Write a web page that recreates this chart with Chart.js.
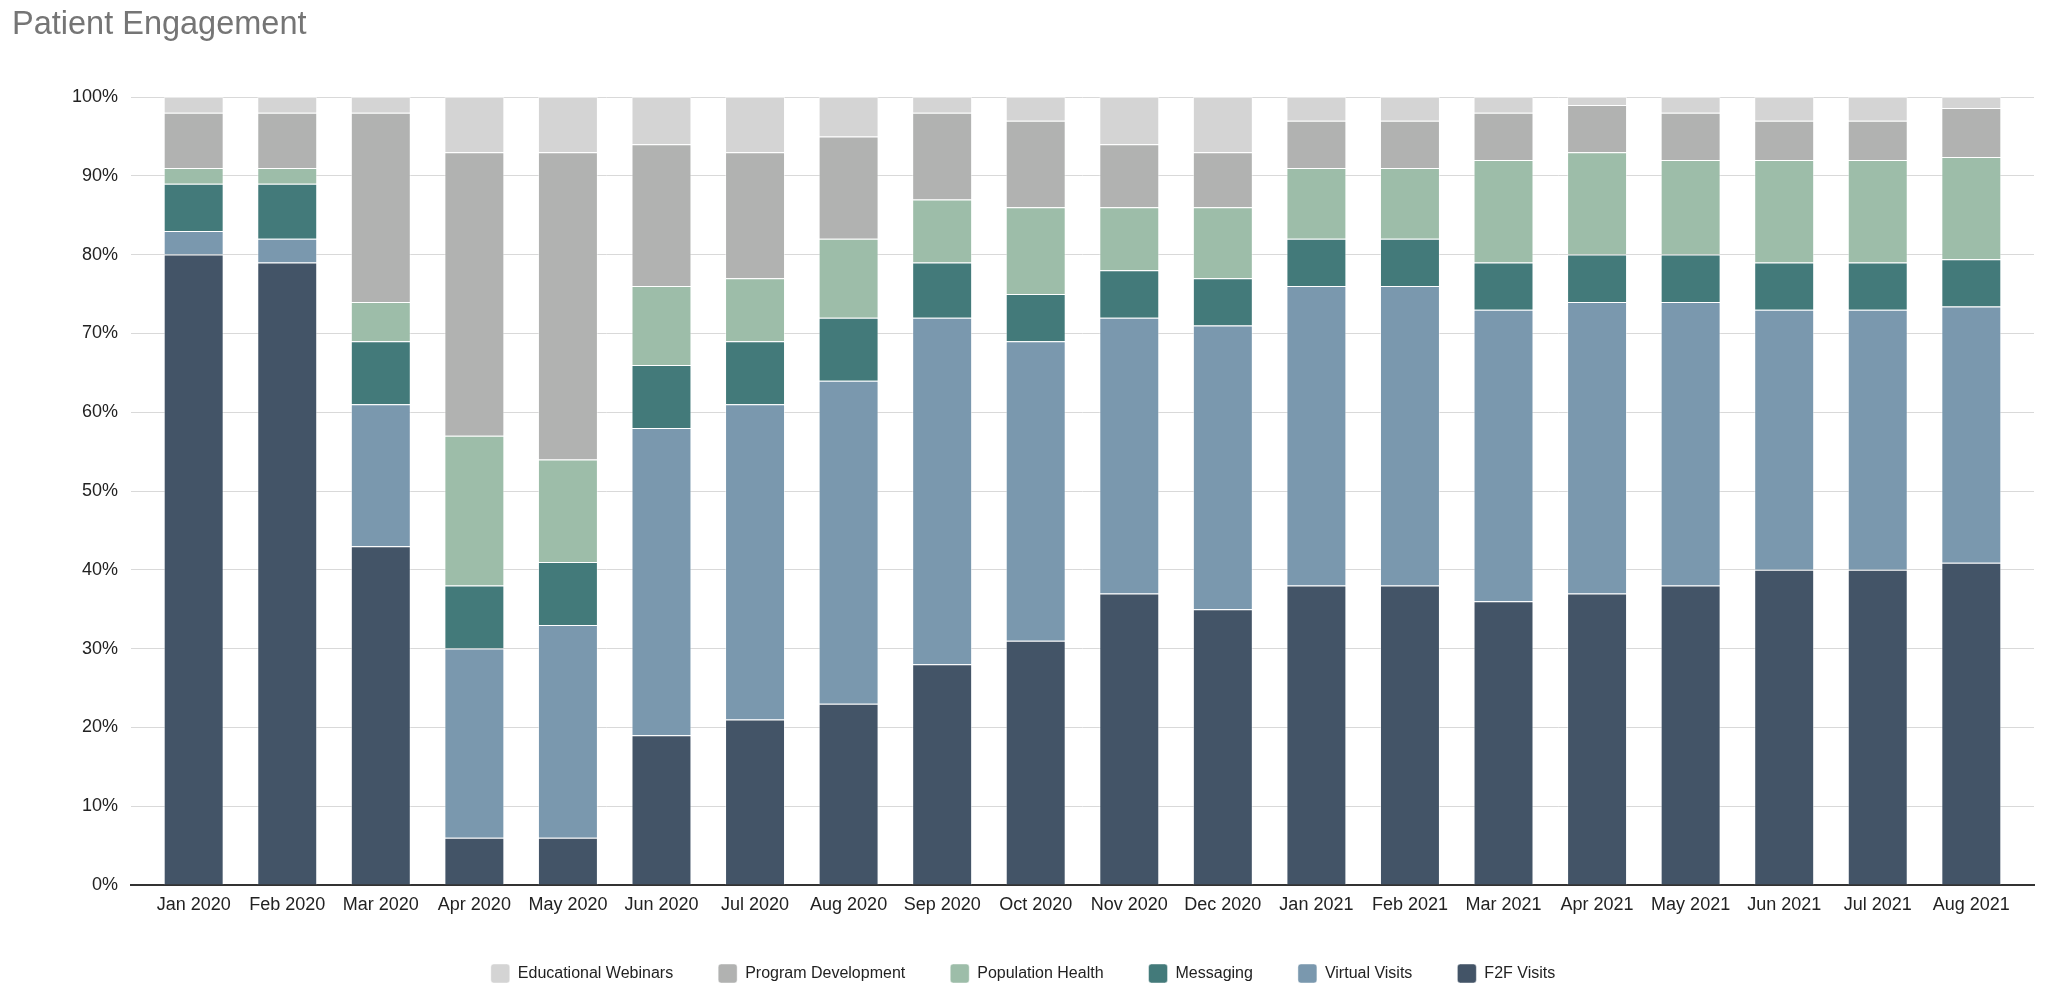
<!DOCTYPE html>
<html>
<head>
<meta charset="utf-8">
<title>Patient Engagement</title>
<script src="https://cdn.jsdelivr.net/npm/chart.js@4.4.1/dist/chart.umd.min.js"></script>
<style>
    html, body { margin: 0; padding: 0; background: #fff; }
    #wrap { width: 2048px; height: 997px; position: relative; }
</style>
</head>
<body>
<div id="wrap"><canvas id="chartEngagement"></canvas></div>
<script>
var months = ['Jan 2020', 'Feb 2020', 'Mar 2020', 'Apr 2020', 'May 2020', 'Jun 2020', 'Jul 2020', 'Aug 2020', 'Sep 2020', 'Oct 2020',
    'Nov 2020', 'Dec 2020', 'Jan 2021', 'Feb 2021', 'Mar 2021', 'Apr 2021', 'May 2021', 'Jun 2021', 'Jul 2021', 'Aug 2021'];

// share of engagement per month (%), bottom of the stack first
var f2fVisits = [80, 79, 43, 6, 6, 19, 21, 23, 28, 31, 37, 35, 38, 38, 36, 37, 38, 40, 40, 40.9];
var virtualVisits = [3, 3, 18, 24, 27, 39, 40, 41, 44, 38, 35, 36, 38, 38, 37, 37, 36, 33, 33, 32.5];
var messaging = [6, 7, 8, 8, 8, 8, 8, 8, 7, 6, 6, 6, 6, 6, 6, 6, 6, 6, 6, 6];
var populationHealth = [2, 2, 5, 19, 13, 10, 8, 10, 8, 11, 8, 9, 9, 9, 13, 13, 12, 13, 13, 13];
var programDevelopment = [7, 7, 24, 36, 39, 18, 16, 13, 11, 11, 8, 7, 6, 6, 6, 6, 6, 5, 5, 6.2];
var educationalWebinars = [2, 2, 2, 7, 7, 6, 7, 5, 2, 3, 6, 7, 3, 3, 2, 1, 2, 3, 3, 1.4];

var yTicks = [0, 10, 20, 30, 40, 50, 60, 70, 80, 90, 100];

var seriesNames = ['F2F Visits', 'Virtual Visits', 'Messaging', 'Population Health', 'Program Development', 'Educational Webinars'];
var seriesData = [f2fVisits, virtualVisits, messaging, populationHealth, programDevelopment, educationalWebinars];
var seriesColors = ['#435467', '#7a98ae', '#437a7a', '#9dbda9', '#b1b2b1', '#d4d4d4'];

var fontFamily = "Arial, 'Liberation Sans', sans-serif";

var objDatasets = [];
for (var i = 0; i < seriesNames.length; i++) {
    objDatasets.push({
        label: seriesNames[i],
        data: seriesData[i].map(function (v, idx) { return { x: idx, y: v }; }),
        backgroundColor: seriesColors[i],
        borderColor: 'rgba(255,255,255,0.45)',
        borderWidth: 1,
        barPercentage: 0.641,
        categoryPercentage: 1
    });
}

var ctx = document.getElementById('chartEngagement').getContext('2d');
var engagementChart = new Chart(ctx, {
    type: 'bar',
    data: {
        datasets: objDatasets
    },
    options: {
        responsive: true,
        maintainAspectRatio: false,
        animation: false,
        layout: {
            padding: { left: 12, right: 14, top: 0, bottom: 4 }
        },
        plugins: {
            title: {
                display: true,
                text: 'Patient Engagement',
                align: 'start',
                color: '#757575',
                font: { family: fontFamily, size: 32.5, weight: 'normal' },
                padding: { top: 6, bottom: 52 }
            },
            legend: {
                display: true,
                position: 'bottom',
                reverse: true,
                labels: {
                    color: '#222',
                    font: { family: fontFamily, size: 16 },
                    boxWidth: 19,
                    boxHeight: 19,
                    padding: 45,
                    useBorderRadius: true,
                    borderRadius: 3
                }
            },
            tooltip: { enabled: false }
        },
        scales: {
            x: {
                type: 'linear',
                stacked: true,
                offset: false,
                bounds: 'data',
                min: -0.67,
                max: 19.67,
                // one tick per month
                afterBuildTicks: function (scale) {
                    scale.ticks = months.map(function (m, idx) { return { value: idx }; });
                },
                afterFit: function (scale) {
                    scale.height = 34;
                },
                grid: { display: false, drawTicks: false },
                border: { display: true, color: '#333', width: 2 },
                ticks: {
                    autoSkip: false,
                    maxRotation: 0,
                    padding: 9,
                    color: '#222',
                    font: { family: fontFamily, size: 18 },
                    callback: function (value) {
                        return months[value];
                    }
                }
            },
            y: {
                stacked: true,
                min: yTicks[0],
                max: yTicks[yTicks.length - 1],
                afterFit: function (scale) {
                    scale.width = 119;
                },
                grid: { color: '#d9d9d9', lineWidth: 1, drawTicks: false },
                border: { display: false },
                ticks: {
                    stepSize: 10,
                    padding: 13,
                    color: '#222',
                    font: { family: fontFamily, size: 18 },
                    callback: function (value) {
                        return value + '%';
                    }
                }
            }
        }
    }
});
</script>
</body>
</html>
